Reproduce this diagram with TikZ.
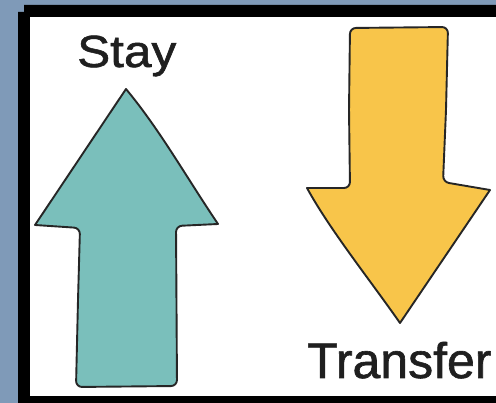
\documentclass[tikz,border=0pt]{standalone}
\usepackage{fontspec}
\setmainfont{Liberation Sans}[BoldFont=Liberation Sans,BoldFeatures={FakeBold=1.2}]
\definecolor{bgblue}{RGB}{127,154,184}
\definecolor{teal1}{RGB}{122,191,187}
\definecolor{yell1}{RGB}{248,197,74}
\begin{document}
\begin{tikzpicture}[x=1pt,y=-1pt,
  outline/.style={draw=black!85,line width=1.9pt,line join=round},
  lbl/.style={inner sep=0pt,anchor=base west,text=black!88}]
\useasboundingbox (0,0) rectangle (496,403);
\fill[bgblue] (0,0) rectangle (496,403);
\fill[black] (18,12) -- (24,12) -- (24,5) -- (496,5) -- (496,403) -- (18,403) -- cycle;
\fill[white] (30,17) rectangle (496,396);
% Stay arrow (teal)
\path[outline,fill=teal1]
  (126,89) -- (35,225)
  [rounded corners=6pt] -- (80,228) -- (78,300) -- (76,387) -- (177,386)
  -- (176,226) [sharp corners] -- (218,224)
  .. controls (185,175) and (160,130) .. (126,89) -- cycle;
% Transfer arrow (yellow)
\path[outline,fill=yell1]
  (400,323) .. controls (370,280) and (330,230) .. (307,188)
  [rounded corners=6pt] -- (350,188) -- (349,110) -- (350,28) -- (448,27)
  -- (446,110) -- (443,182) [sharp corners] -- (490,190) -- cycle;
\node[lbl,font=\fontsize{45}{54}\selectfont\bfseries,xscale=1.1] (stay) at (77,67) {Stay};
\node[lbl,font=\fontsize{50}{60}\selectfont\bfseries] (transfer) at (307,378) {Transfer};
\end{tikzpicture}
\end{document}
